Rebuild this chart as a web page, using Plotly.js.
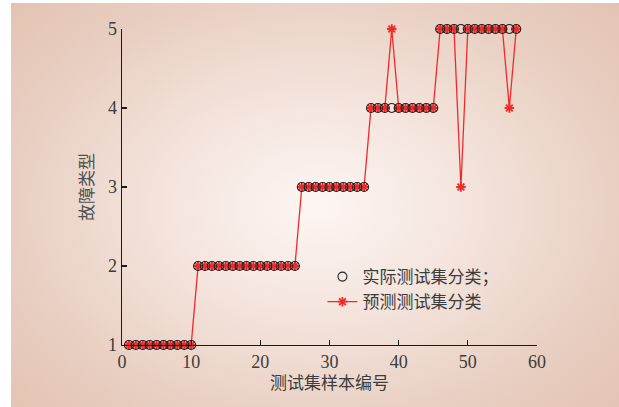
<!DOCTYPE html>
<html>
<head>
<meta charset="utf-8">
<script src="https://cdn.plot.ly/plotly-3.0.1.min.js"></script>
<style>
html,body{margin:0;padding:0;background:#ffffff;width:619px;height:407px;overflow:hidden;}
#bg{position:absolute;left:11px;top:3px;width:608px;height:404px;
background:radial-gradient(ellipse 420px 300px at 306px 204px,#fcf6f3 0%,#f3e2da 40%,#e9d0c3 70%,#e2c3b3 100%);}
#chart{position:absolute;left:0;top:0;width:619px;height:407px;}
</style>
</head>
<body>
<div id="bg"></div>
<div id="chart"></div>
<script>
var sampleIdx = [1,2,3,4,5,6,7,8,9,10,11,12,13,14,15,16,17,18,19,20,21,22,23,24,25,26,27,28,29,30,31,32,33,34,35,36,37,38,39,40,41,42,43,44,45,46,47,48,49,50,51,52,53,54,55,56,57];
var actualClass = [1,1,1,1,1,1,1,1,1,1,2,2,2,2,2,2,2,2,2,2,2,2,2,2,2,3,3,3,3,3,3,3,3,3,3,4,4,4,4,4,4,4,4,4,4,5,5,5,5,5,5,5,5,5,5,5,5];
var predictedClass = [1,1,1,1,1,1,1,1,1,1,2,2,2,2,2,2,2,2,2,2,2,2,2,2,2,3,3,3,3,3,3,3,3,3,3,4,4,4,5,4,4,4,4,4,4,5,5,5,3,5,5,5,5,5,5,4,5];
var seriesNames = ['实际测试集分类；', '预测测试集分类'];
var xTicks = [0,10,20,30,40,50,60];
var yTicks = [1,2,3,4,5];

var textColor = '#3c3c3c';
var serif = '"Liberation Serif","Noto Sans CJK SC",serif';
var red = '#f02a2a';

var traces = [
  {
    x: sampleIdx, y: predictedClass, name: seriesNames[1], type: 'scatter', mode: 'lines+markers',
    line: {color: red, width: 1.3},
    marker: {symbol: 'asterisk-open', size: 8, color: red, line: {color: red, width: 1.8}},
    cliponaxis: false, legendrank: 2
  },
  {
    x: sampleIdx, y: actualClass, name: seriesNames[0], type: 'scatter', mode: 'markers',
    marker: {symbol: 'circle-open', size: 9, color: '#222222', line: {color: '#222222', width: 1.1}},
    cliponaxis: false, legendrank: 1
  }
];

var layout = {
  width: 619, height: 407,
  margin: {l: 122, r: 82, t: 29, b: 62},
  paper_bgcolor: 'rgba(0,0,0,0)', plot_bgcolor: 'rgba(0,0,0,0)',
  font: {family: serif, color: textColor, size: 18},
  showlegend: true,
  legend: {x: 0.483, y: 0.272, xanchor: 'left', yanchor: 'top', bgcolor: 'rgba(0,0,0,0)',
           font: {family: serif, size: 17, color: textColor}, tracegroupgap: 0, itemwidth: 30},
  xaxis: {
    range: [0, 60], tickvals: xTicks, ticktext: xTicks.map(String),
    showgrid: false, zeroline: false, showline: true, linecolor: '#1a1a1a', linewidth: 1.4,
    ticks: 'inside', ticklen: 5, tickwidth: 1.2, tickcolor: '#1a1a1a', mirror: false,
    tickfont: {family: serif, size: 18, color: textColor},
    title: {text: '测试集样本编号', font: {family: serif, size: 17, color: textColor}, standoff: 6}
  },
  yaxis: {
    range: [1, 5], tickvals: yTicks, ticktext: yTicks.map(String),
    showgrid: false, zeroline: false, showline: true, linecolor: '#1a1a1a', linewidth: 1.4,
    ticks: 'inside', ticklen: 5, tickwidth: 1.2, tickcolor: '#1a1a1a', mirror: false,
    tickfont: {family: serif, size: 18, color: textColor},
    title: {text: '故障类型', font: {family: serif, size: 17, color: '#505050'}, standoff: 10}
  }
};

Plotly.newPlot('chart', traces, layout, {displayModeBar: false, staticPlot: true});
</script>
</body>
</html>
